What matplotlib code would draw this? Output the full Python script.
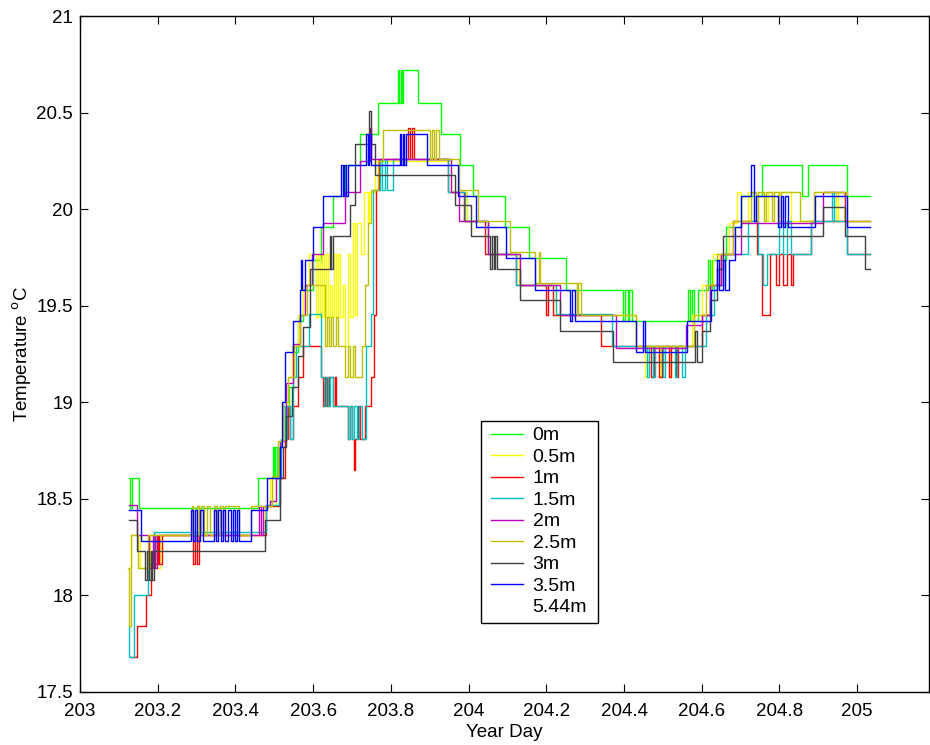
import matplotlib
matplotlib.use('Agg')
import matplotlib.pyplot as plt
from matplotlib.patches import Rectangle
from matplotlib.ticker import FuncFormatter

plt.rcParams['font.family'] = ['Liberation Sans', 'DejaVu Sans']

# thermistor string records: (year day, temperature) at each change of reading
s_0m = [(203.125, 18.61), (203.130, 18.45), (203.133, 18.61), (203.152, 18.45), (203.458, 18.61),
        (203.497, 18.77), (203.500, 18.61), (203.503, 18.77), (203.506, 18.61), (203.512, 18.77),
        (203.527, 18.93), (203.537, 19.08), (203.548, 19.26), (203.560, 19.42), (203.574, 19.58),
        (203.600, 19.74), (203.621, 19.91), (203.651, 20.07), (203.681, 20.23), (203.720, 20.39),
        (203.767, 20.55), (203.819, 20.72), (203.822, 20.55), (203.825, 20.72), (203.828, 20.55),
        (203.831, 20.72), (203.870, 20.55), (203.930, 20.39), (203.977, 20.23), (204.012, 20.07),
        (204.093, 19.91), (204.156, 19.75), (204.250, 19.58), (204.398, 19.42), (204.403, 19.58),
        (204.409, 19.42), (204.414, 19.58), (204.420, 19.42), (204.565, 19.58), (204.570, 19.42),
        (204.575, 19.58), (204.580, 19.42), (204.591, 19.58), (204.617, 19.74), (204.622, 19.58),
        (204.626, 19.74), (204.662, 19.91), (204.702, 20.07), (204.754, 20.23), (204.857, 20.07),
        (204.874, 20.23), (204.973, 20.07), (205.033, 20.07)]

s_05m = [(203.124, 18.14), (203.132, 18.31), (203.154, 18.14), (203.175, 18.31), (203.180, 18.14),
         (203.190, 18.31), (203.196, 18.14), (203.205, 18.31), (203.475, 18.46), (203.490, 18.61),
         (203.495, 18.46), (203.505, 18.61), (203.515, 18.80), (203.525, 18.98), (203.535, 19.13),
         (203.545, 19.29), (203.560, 19.45), (203.575, 19.61), (203.590, 19.77), (203.608, 19.44),
         (203.613, 19.77), (203.618, 19.44), (203.623, 19.77), (203.628, 19.44), (203.633, 19.77),
         (203.638, 19.44), (203.643, 19.61), (203.648, 19.44), (203.653, 19.77), (203.658, 19.44),
         (203.664, 19.77), (203.670, 19.44), (203.676, 19.61), (203.682, 19.29), (203.690, 19.77),
         (203.696, 19.44), (203.703, 19.93), (203.708, 19.45), (203.713, 19.93), (203.724, 19.77),
         (203.730, 20.09), (203.740, 19.93), (203.745, 20.09), (203.760, 20.25),
         (203.955, 20.09), (203.995, 19.94), (204.050, 19.77), (204.130, 19.61), (204.225, 19.45),
         (204.430, 19.29), (204.455, 19.13), (204.460, 19.29), (204.490, 19.13), (204.495, 19.29),
         (204.515, 19.13), (204.520, 19.29), (204.575, 19.45), (204.600, 19.61), (204.630, 19.77),
         (204.645, 19.61), (204.650, 19.77), (204.670, 19.93), (204.690, 20.09), (204.700, 19.93),
         (204.720, 20.09), (204.735, 19.94), (204.745, 20.09), (204.760, 19.94), (204.770, 20.09),
         (204.795, 19.94), (204.800, 20.09), (204.830, 19.94), (204.890, 20.09), (204.945, 19.94),
         (204.950, 20.09), (204.965, 19.94), (205.033, 19.94)]

s_1m = [(203.130, 17.68), (203.146, 17.84), (203.170, 18.00), (203.182, 18.16), (203.190, 18.31),
        (203.194, 18.16), (203.200, 18.31), (203.204, 18.16), (203.210, 18.31), (203.290, 18.16),
        (203.297, 18.31), (203.300, 18.16), (203.306, 18.31), (203.478, 18.46), (203.514, 18.61),
        (203.527, 18.81), (203.535, 18.98), (203.540, 18.81), (203.548, 18.98), (203.560, 19.13),
        (203.575, 19.29), (203.620, 19.13), (203.625, 18.98), (203.630, 19.13), (203.636, 18.98),
        (203.642, 19.13), (203.650, 18.98), (203.655, 19.13), (203.660, 18.98), (203.690, 18.81),
        (203.696, 18.98), (203.700, 18.81), (203.705, 18.65), (203.708, 18.81), (203.716, 18.98),
        (203.720, 18.81), (203.733, 18.98), (203.750, 19.13), (203.757, 19.45), (203.762, 20.10),
        (203.770, 20.26), (203.845, 20.42), (203.848, 20.26), (203.855, 20.42), (203.860, 20.26),
        (203.946, 20.09), (203.987, 19.94), (204.042, 19.77), (204.123, 19.61), (204.200, 19.45),
        (204.204, 19.61), (204.218, 19.45), (204.342, 19.29), (204.470, 19.13), (204.476, 19.29),
        (204.490, 19.13), (204.497, 19.29), (204.515, 19.13), (204.520, 19.29), (204.535, 19.13),
        (204.540, 19.29), (204.600, 19.45), (204.620, 19.61), (204.650, 19.77), (204.680, 19.94),
        (204.742, 19.77), (204.754, 19.45), (204.775, 19.77), (204.790, 19.61), (204.800, 19.77),
        (204.810, 19.61), (204.820, 19.77), (204.830, 19.61), (204.835, 19.77), (204.882, 19.94),
        (204.973, 19.77), (205.033, 19.77)]

s_15m = [(203.125, 17.84), (203.127, 17.68), (203.138, 18.00), (203.176, 18.16), (203.190, 18.33),
         (203.478, 18.47), (203.512, 18.61), (203.518, 18.81), (203.522, 18.98), (203.527, 18.81),
         (203.534, 18.98), (203.540, 18.81), (203.548, 19.13), (203.556, 19.29), (203.590, 19.46),
         (203.620, 19.13), (203.627, 18.98), (203.632, 19.13), (203.638, 18.98), (203.644, 19.13),
         (203.650, 18.98), (203.690, 18.81), (203.695, 18.98), (203.700, 18.81), (203.705, 18.98),
         (203.712, 18.81), (203.718, 18.98), (203.725, 18.81), (203.737, 19.29), (203.748, 19.46),
         (203.755, 20.10), (203.772, 20.26), (203.778, 20.10), (203.785, 20.26), (203.790, 20.10),
         (203.805, 20.26), (203.946, 20.09), (203.990, 19.94), (204.050, 19.77), (204.123, 19.61),
         (204.226, 19.46), (204.368, 19.29), (204.458, 19.13), (204.463, 19.29), (204.475, 19.13),
         (204.480, 19.29), (204.500, 19.13), (204.505, 19.29), (204.530, 19.13), (204.536, 19.29),
         (204.550, 19.13), (204.556, 19.29), (204.612, 19.45), (204.632, 19.61), (204.660, 19.77),
         (204.720, 19.94), (204.744, 19.77), (204.758, 19.61), (204.767, 19.77), (204.800, 19.94),
         (204.810, 19.77), (204.820, 19.94), (204.830, 19.77), (204.880, 19.94), (204.935, 20.09),
         (204.940, 19.94), (204.975, 19.77), (205.033, 19.77)]

s_2m = [(203.125, 18.47), (203.148, 18.31), (203.177, 18.14), (203.187, 18.31), (203.192, 18.14),
        (203.198, 18.31), (203.460, 18.46), (203.465, 18.31), (203.470, 18.46), (203.490, 18.49),
        (203.505, 18.61), (203.515, 18.80), (203.530, 19.10), (203.548, 19.30), (203.565, 19.45),
        (203.580, 19.61), (203.596, 19.77), (203.625, 19.93), (203.681, 20.09), (203.720, 20.25),
        (203.746, 20.42), (203.749, 20.26), (203.956, 20.09), (203.975, 19.94), (204.050, 19.77),
        (204.132, 19.61), (204.235, 19.45), (204.380, 19.28), (204.560, 19.40), (204.600, 19.45),
        (204.620, 19.61), (204.650, 19.77), (204.700, 19.93), (204.912, 20.09), (204.968, 19.94),
        (205.033, 19.94)]

s_25m = [(203.123, 18.14), (203.127, 17.84), (203.131, 18.31), (203.150, 18.14), (203.175, 18.31),
         (203.287, 18.46), (203.292, 18.31), (203.300, 18.46), (203.306, 18.31), (203.312, 18.46),
         (203.320, 18.31), (203.327, 18.46), (203.334, 18.31), (203.345, 18.46), (203.352, 18.31),
         (203.360, 18.46), (203.367, 18.31), (203.372, 18.46), (203.410, 18.31), (203.440, 18.46),
         (203.493, 18.62), (203.510, 18.80), (203.522, 19.00), (203.535, 19.13), (203.550, 19.29),
         (203.565, 19.45), (203.585, 19.61), (203.630, 19.29), (203.636, 19.44), (203.641, 19.29),
         (203.647, 19.44), (203.652, 19.29), (203.658, 19.44), (203.663, 19.29), (203.681, 19.13),
         (203.690, 19.29), (203.694, 19.13), (203.703, 19.29), (203.707, 19.13), (203.725, 19.29),
         (203.733, 19.61), (203.740, 19.93), (203.748, 20.10), (203.768, 20.25), (203.780, 20.41),
         (203.900, 20.26), (203.905, 20.41), (203.912, 20.26), (203.916, 20.41), (203.925, 20.26),
         (203.975, 20.10), (204.025, 19.94), (204.106, 19.78), (204.170, 19.62), (204.180, 19.78),
         (204.185, 19.62), (204.278, 19.45), (204.282, 19.62), (204.290, 19.45), (204.430, 19.29),
         (204.580, 19.45), (204.610, 19.61), (204.640, 19.77), (204.680, 19.94), (204.728, 20.09),
         (204.740, 19.94), (204.745, 20.09), (204.760, 19.94), (204.765, 20.09), (204.780, 19.94),
         (204.785, 20.09), (204.800, 19.94), (204.805, 20.09), (204.853, 19.94), (204.888, 20.09),
         (204.973, 19.94), (205.033, 19.94)]

s_3m = [(203.125, 18.39), (203.147, 18.23), (203.168, 18.08), (203.172, 18.23), (203.178, 18.08),
        (203.183, 18.23), (203.186, 18.08), (203.190, 18.23), (203.477, 18.39), (203.514, 18.61),
        (203.522, 18.77), (203.530, 18.93), (203.545, 19.08), (203.560, 19.24), (203.575, 19.39),
        (203.591, 19.69), (203.643, 19.86), (203.646, 19.69), (203.650, 19.86), (203.694, 20.02),
        (203.707, 20.34), (203.745, 20.51), (203.748, 20.34), (203.760, 20.18),
        (203.964, 20.02), (204.007, 19.86), (204.055, 19.69), (204.060, 19.86), (204.065, 19.69),
        (204.068, 19.86), (204.072, 19.69), (204.132, 19.53), (204.235, 19.37), (204.372, 19.21),
        (204.582, 19.37), (204.588, 19.21), (204.600, 19.37), (204.620, 19.53), (204.640, 19.69),
        (204.655, 19.86), (204.912, 20.01), (204.968, 19.86), (205.020, 19.69), (205.033, 19.69)]

s_35m = [(203.125, 18.44), (203.156, 18.28), (203.285, 18.44), (203.290, 18.28), (203.296, 18.44),
         (203.302, 18.28), (203.310, 18.44), (203.316, 18.28), (203.345, 18.44), (203.350, 18.28),
         (203.356, 18.44), (203.362, 18.28), (203.368, 18.44), (203.374, 18.28), (203.380, 18.44),
         (203.388, 18.28), (203.393, 18.44), (203.400, 18.28), (203.405, 18.44), (203.410, 18.28),
         (203.440, 18.44), (203.480, 18.61), (203.514, 18.77), (203.520, 19.00), (203.528, 19.26),
         (203.548, 19.42), (203.565, 19.58), (203.568, 19.74), (203.572, 19.58), (203.578, 19.74),
         (203.600, 19.91), (203.625, 20.07), (203.672, 20.23), (203.676, 20.07), (203.680, 20.23),
         (203.684, 20.07), (203.690, 20.23), (203.737, 20.39), (203.740, 20.23), (203.745, 20.39),
         (203.748, 20.23), (203.823, 20.39), (203.826, 20.23), (203.830, 20.39), (203.833, 20.23),
         (203.840, 20.39), (203.892, 20.23), (203.973, 20.07), (204.020, 19.91), (204.097, 19.75),
         (204.170, 19.58), (204.260, 19.42), (204.266, 19.58), (204.273, 19.42), (204.432, 19.26),
         (204.448, 19.42), (204.454, 19.26), (204.561, 19.42), (204.625, 19.58), (204.640, 19.74),
         (204.645, 19.58), (204.655, 19.74), (204.660, 19.58), (204.670, 19.74), (204.685, 19.91),
         (204.702, 20.07), (204.728, 20.23), (204.734, 19.94), (204.740, 20.07), (204.797, 19.91),
         (204.803, 20.07), (204.810, 19.91), (204.815, 20.07), (204.822, 19.91), (204.891, 20.07),
         (204.973, 19.91), (205.033, 19.91)]

s_544m = []   # deepest sensor: no readings

depth_labels = ['0m', '0.5m', '1m', '1.5m', '2m', '2.5m', '3m', '3.5m', '5.44m']
series = [s_0m, s_05m, s_1m, s_15m, s_2m, s_25m, s_3m, s_35m, s_544m]
colors = [(0, 1, 0), (1, 1, 0), (1, 0, 0), (0, .75, .75), (.75, 0, .75),
          (.75, .75, 0), (.25, .25, .25), (0, 0, 1), (1, 1, 1)]

fig = plt.figure(figsize=(9.3, 7.45), dpi=100)
ax = fig.add_axes([0.086, 0.0715, 0.913, 0.9065])

for s, c, lab in zip(series, colors, depth_labels):
    t = [p[0] for p in s]
    v = [p[1] for p in s]
    ax.plot(t, v, color=c, lw=1.0, drawstyle='steps-post', label=lab)

ax.set_xlim(203, 205.185)
ax.set_ylim(17.5, 21)
ax.set_xticks([203, 203.2, 203.4, 203.6, 203.8, 204, 204.2, 204.4, 204.6, 204.8, 205])
ax.set_yticks([17.5, 18, 18.5, 19, 19.5, 20, 20.5, 21])
ax.xaxis.set_major_formatter(FuncFormatter(lambda x, p: '%g' % round(x, 1)))
ax.yaxis.set_major_formatter(FuncFormatter(lambda y, p: '%g' % y))
ax.tick_params(direction='in', length=6, width=0.8, top=True, right=True, labelsize=13.5)
ax.tick_params(axis='x', pad=8)
ax.tick_params(axis='y', pad=5)
for sp in ax.spines.values():
    sp.set_linewidth(1.0)

ax.set_xlabel('Year Day', fontsize=13.5, labelpad=3)
ax.set_ylabel('Temperature $^{\\mathrm{o}}$C', fontsize=13.5, labelpad=2)

# legend box drawn separately so the side margins can be wider than the top/bottom ones
box = Rectangle((0.4723, 0.1017), 0.1378, 0.2992, transform=ax.transAxes,
                facecolor='white', edgecolor='black', lw=1.0, zorder=4)
ax.add_patch(box)
leg = ax.legend(loc='upper left', bbox_to_anchor=(0.477, 0.401), borderaxespad=0,
                fontsize=14, frameon=False,
                handlelength=1.65, handletextpad=0.5, labelspacing=0.2, borderpad=0.3)
leg.set_zorder(5)

plt.savefig('out.png', dpi=100)
